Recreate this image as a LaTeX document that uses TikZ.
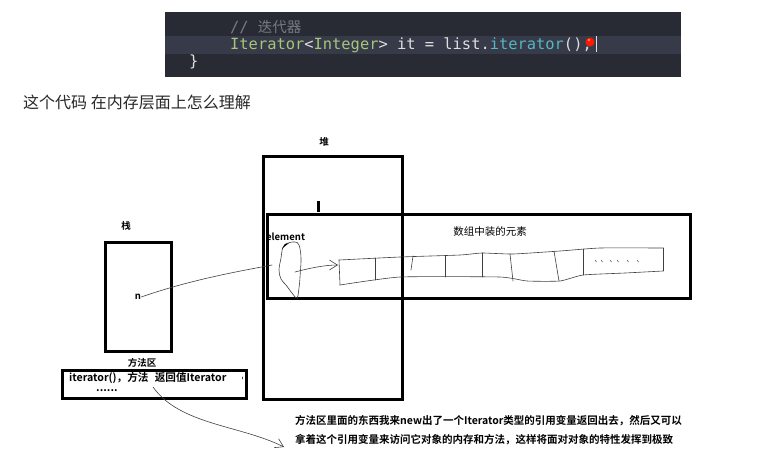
\documentclass[tikz,border=0pt]{standalone}
\usepackage{fontspec}
\newfontfamily\cjk[BoldFont={Noto Sans CJK SC Bold}]{Noto Sans CJK SC}
\newfontfamily\codefont{DejaVu Sans Mono}
\usetikzlibrary{arrows.meta}
\definecolor{codebg}{RGB}{40,42,52}
\definecolor{codeline}{RGB}{55,58,72}
\definecolor{kwgreen}{RGB}{166,198,122}
\definecolor{fncyan}{RGB}{86,182,194}
\definecolor{codefg}{RGB}{222,222,222}
\definecolor{cmtgray}{RGB}{120,122,130}
\definecolor{qtext}{RGB}{40,40,40}
\begin{document}
\begin{tikzpicture}[x=1pt,y=-1pt,
  box/.style={draw,line width=3pt},
  lbl/.style={inner sep=0pt,font=\cjk\bfseries\fontsize{9.5}{11}\selectfont},
  code/.style={inner sep=0pt,anchor=west,font=\codefont\fontsize{15.4}{17}\selectfont},
  pen/.style={line width=0.6pt,black!75,line cap=round,line join=round}]
\useasboundingbox (0,0) rectangle (781,464);
% code snippet
\fill[codebg] (165,12) rectangle (681,77);
\fill[codeline] (165,36) rectangle (681,54);
\node[code,text=cmtgray] (cmt) at (230,27) {//\hspace{0.6em}{\cjk\fontsize{14.5}{17}\selectfont 迭代器}};
\node[code] (line) at (230,45) {\color{kwgreen}Iterator\color{codefg}<\color{kwgreen}Integer\color{codefg}> it = list.\color{fncyan}iterator\color{codefg}();};
\node[code,text=codefg] (brace) at (189,62) {\}};
\fill[red!80!orange] (590,42) circle (4.5);
\fill[white,opacity=0.6] (589,40) circle (1.2);
\draw[codefg,line width=0.8pt] (596,36) -- (596,52);
% question
\node[inner sep=0pt,anchor=west,text=qtext,font=\cjk\fontsize{16}{19}\selectfont] (ques) at (23,102) {这个代码 在内存层面上怎么理解};
% heap
\node[lbl] (heapt) at (324,142) {堆};
\draw[box] (263,156) rectangle (402,399);
\draw[line width=3pt] (318,201) -- (318,212);
\draw[box] (267,214) rectangle (690,298);
\node[lbl,anchor=west] (elem) at (266,237) {element};
\node[inner sep=0pt,font=\cjk\fontsize{10.5}{12}\selectfont] (arrt) at (490,232) {数组中装的元素};
% element blob
\draw[pen] plot[smooth cycle,tension=0.6] coordinates {(283,247) (288,243) (295,242) (299,245) (301,258) (300,277) (299,288) (297,298) (292,293) (286,285) (281,279) (279,270) (281,258)};
\fill (282,249) -- (285,244) -- (289,243) -- (284,247) -- cycle;
\coordinate (blobin) at (272,265);
\coordinate (blobout) at (295,272);
\coordinate (cell0) at (338,265);
% hand drawn array
\draw[pen] plot[smooth,tension=0.3] coordinates {(339,260) (400,257) (460,255) (482,253) (513,254) (560,251) (600,248) (663,248)};
\draw[pen] plot[smooth,tension=0.3] coordinates {(340,285) (400,277) (500,277) (527,281) (560,281) (583,275) (625,273) (663,271)};
\draw[pen] (339,260) -- (340,285);
\draw[pen] (663,248) -- (663,271);
\foreach \xa/\ya/\xb/\yb in {375/258/375/280,413/256/411/270,445/256/445/277,482/253/482/277,510/254/513/281,554/251/559/281,583/249/583/275}
  \draw[pen] (\xa,\ya) -- (\xb,\yb);
\foreach \xd in {595,601,610,617,627,637}
  \draw[pen,line width=0.5pt] (\xd,260) -- (\xd+1.5,262);
% stack
\node[lbl] (stackt) at (126,226) {栈};
\draw[box] (105,242) rectangle (171,351);
\node[lbl] (nref) at (138,297) {n};
% method area
\node[lbl] (metht) at (142,363) {方法区};
\draw[box] (62,370) rectangle (246,398);
\node[lbl,anchor=west,font=\cjk\bfseries\fontsize{10.6}{12}\selectfont] (methtxt) at (69,378) {iterator()，方法\hspace{0.6em}返回值Iterator};
\node[lbl,anchor=west,font=\cjk\bfseries\fontsize{11}{12}\selectfont] (dots) at (96,391) {......};
\draw[pen] (157,372) -- (158,375);
\draw[pen] (242,377) -- (242,379);
\coordinate (methout) at (153,387);
% explanation
\node[lbl,anchor=north west,align=left,font=\cjk\bfseries\fontsize{10.5}{19.5}\selectfont] (expl) at (295,415) {方法区里面的东西我来new出了一个Iterator类型的引用变量返回出去，然后又可以\\拿着这个引用变量来访问它对象的内存和方法，这样将面对对象的特性发挥到极致};
\coordinate (explin) at (284,447);
% connectors
\draw[pen] (nref.east) .. controls (190,280) and (235,272) .. (blobin);
\draw[pen,-{Straight Barb[length=8pt,width=10pt]}] (blobout) .. controls (310,268) and (325,265) .. (cell0);
\draw[pen,-{Straight Barb[length=8pt,width=10pt]}] (methout) .. controls (180,425) and (240,425) .. (explin);
\end{tikzpicture}
\end{document}
